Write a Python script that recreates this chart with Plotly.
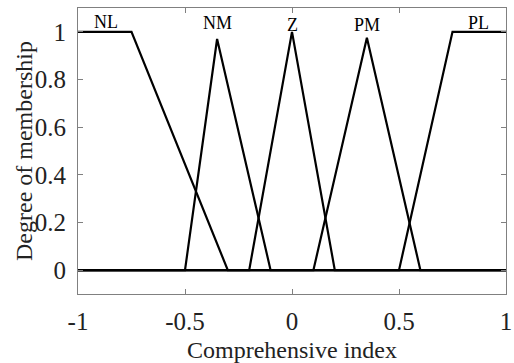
import plotly.graph_objects as go

# Membership functions (breakpoints)
names = ["NL", "NM", "Z", "PM", "PL"]
x_NL = [-1, -0.75, -0.3, 1]
y_NL = [1, 1, 0, 0]
x_NM = [-1, -0.5, -0.35, -0.1, 1]
y_NM = [0, 0, 0.97, 0, 0]
x_Z = [-1, -0.2, 0, 0.2, 1]
y_Z = [0, 0, 1, 0, 0]
x_PM = [-1, 0.1, 0.35, 0.6, 1]
y_PM = [0, 0, 0.975, 0, 0]
x_PL = [-1, 0.5, 0.75, 1]
y_PL = [0, 0, 1, 1]

label_x = [-0.87, -0.35, 0, 0.35, 0.87]
label_y = [1.04, 1.035, 1.03, 1.03, 1.035]

x_ticks = [-1, -0.5, 0, 0.5, 1]
x_ticktext = ["-1", "-0.5", "0", "0.5", "1"]
y_ticks = [0, 0.2, 0.4, 0.6, 0.8, 1]
y_ticktext = ["0", "0.2", "0.4", "0.6", "0.8", "1"]

FONT = "Liberation Serif"

fig = go.Figure()
for xs, ys in [(x_NL, y_NL), (x_NM, y_NM), (x_Z, y_Z), (x_PM, y_PM), (x_PL, y_PL)]:
    fig.add_trace(go.Scatter(x=xs, y=ys, mode="lines",
                             line=dict(color="black", width=2.2),
                             showlegend=False, hoverinfo="skip"))

for nm, lx, ly in zip(names, label_x, label_y):
    fig.add_annotation(x=lx, y=ly, xref="x", yref="y", text=nm, showarrow=False,
                       font=dict(family=FONT, size=18, color="black"),
                       xanchor="center", yanchor="middle")

# axis titles as annotations (the y title overlaps tick labels in the original)
fig.add_annotation(x=0, y=-0.1, xref="x", yref="y", text="Comprehensive index",
                   showarrow=False, font=dict(family=FONT, size=24, color="#222"),
                   xanchor="center", yanchor="middle", yshift=-56)
fig.add_annotation(x=0, y=0.5, xref="paper", yref="paper", text="Degree of membership",
                   showarrow=False, textangle=-90,
                   font=dict(family=FONT, size=24, color="#222"),
                   xanchor="center", yanchor="middle", xshift=-54)

axis_common = dict(showline=True, linecolor="#808080", linewidth=1, mirror="ticks",
                   ticks="inside", ticklen=5, tickcolor="#808080", tickwidth=1,
                   showgrid=False, zeroline=False,
                   tickfont=dict(family=FONT, size=25, color="#222"))

fig.update_xaxes(range=[-1, 1], tickvals=x_ticks, ticktext=x_ticktext,
                 ticklabelstandoff=5, **axis_common)
fig.update_yaxes(range=[-0.1, 1.1], tickvals=y_ticks, ticktext=y_ticktext,
                 ticklabelstandoff=6, **axis_common)

fig.update_layout(width=514, height=363,
                  margin=dict(l=78, r=8, t=8, b=69, autoexpand=False),
                  paper_bgcolor="white", plot_bgcolor="white")

fig.write_html("out.html", config={"displayModeBar": False},
               post_script="document.body.style.margin='0px';document.body.style.padding='0px';")
